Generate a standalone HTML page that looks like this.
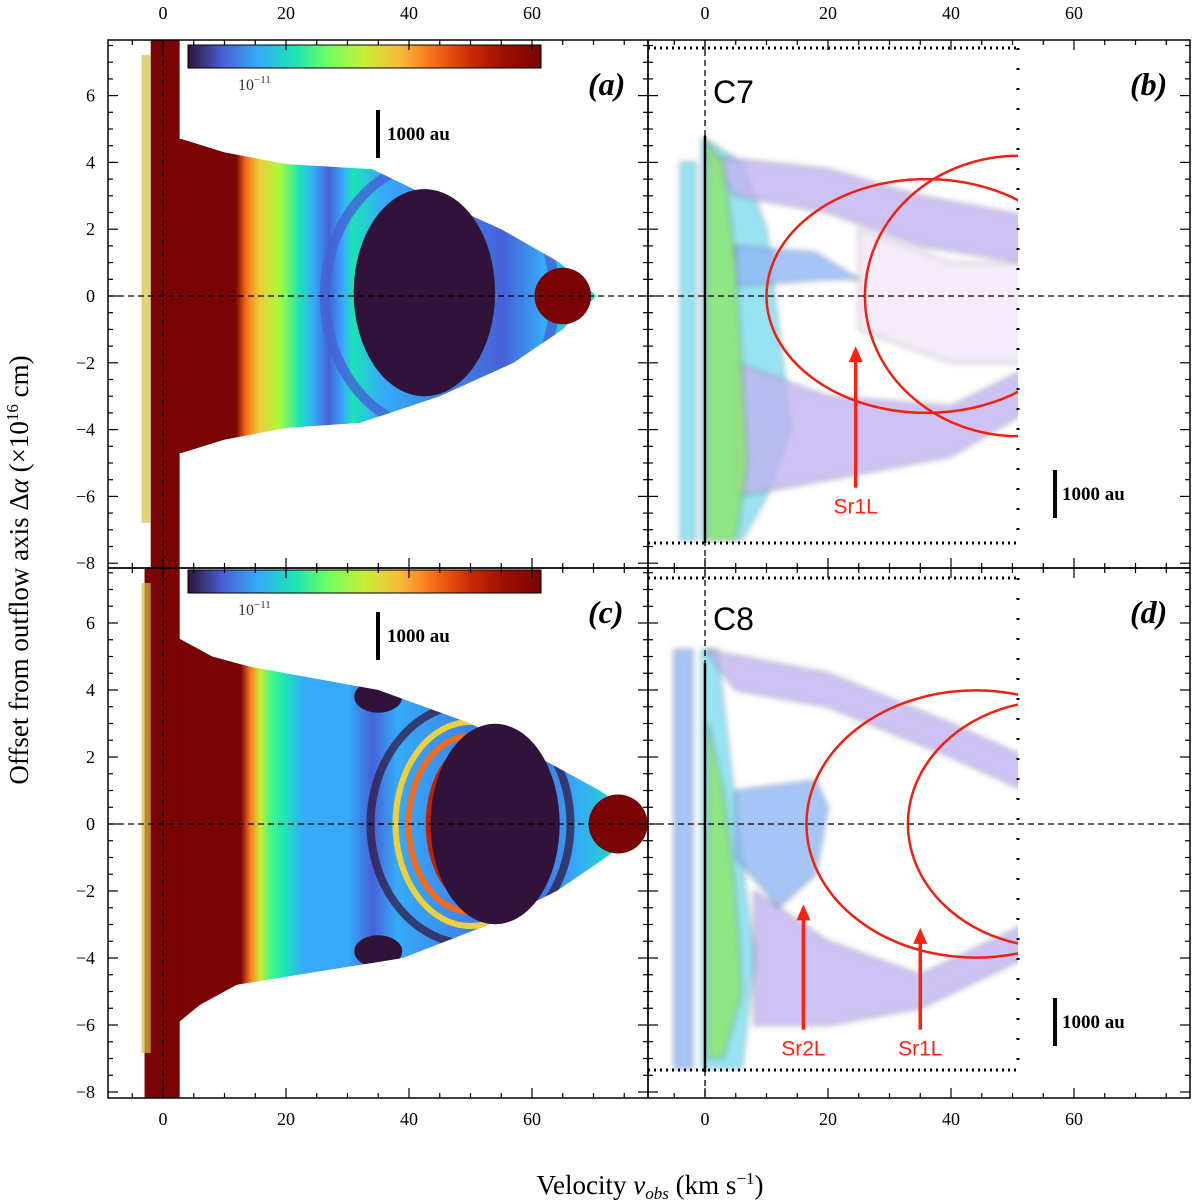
<!DOCTYPE html>
<html><head><meta charset="utf-8"><style>
html,body{margin:0;padding:0;background:#fff;}
svg{display:block;font-family:"Liberation Serif",serif;}
</style></head><body>
<svg id="fig" width="1200" height="1204" viewBox="0 0 1200 1204" xmlns="http://www.w3.org/2000/svg">
<defs id="defs">
<linearGradient id="turbo" x1="0" x2="1" y1="0" y2="0">
<stop offset="0" stop-color="#30123b"/><stop offset="0.1" stop-color="#4662d7"/><stop offset="0.2" stop-color="#36aaf9"/><stop offset="0.3" stop-color="#1ae4b6"/><stop offset="0.4" stop-color="#72fe5e"/><stop offset="0.5" stop-color="#c8ef34"/><stop offset="0.6" stop-color="#faba39"/><stop offset="0.7" stop-color="#f66b19"/><stop offset="0.8" stop-color="#ca2a04"/><stop offset="0.9" stop-color="#9c0e02"/><stop offset="1" stop-color="#7a0403"/>
</linearGradient>
<linearGradient id="gradA" gradientUnits="userSpaceOnUse" x1="163" x2="650" y1="0" y2="0">
<stop offset="0.15" stop-color="#7a0403"/><stop offset="0.17" stop-color="#f66b19"/><stop offset="0.2" stop-color="#edd03a"/><stop offset="0.24" stop-color="#a4fc3c"/><stop offset="0.28" stop-color="#1ae4b6"/><stop offset="0.31" stop-color="#36aaf9"/><stop offset="0.34" stop-color="#4662d7"/><stop offset="0.37" stop-color="#36aaf9"/><stop offset="0.39" stop-color="#1ae4b6"/><stop offset="0.45" stop-color="#36aaf9"/><stop offset="0.7" stop-color="#4662d7"/><stop offset="0.78" stop-color="#36aaf9"/><stop offset="0.85" stop-color="#1ae4b6"/>
</linearGradient>
<linearGradient id="gradC" gradientUnits="userSpaceOnUse" x1="163" x2="650" y1="0" y2="0">
<stop offset="0.16" stop-color="#7a0403"/><stop offset="0.18" stop-color="#fb8022"/><stop offset="0.2" stop-color="#c8ef34"/><stop offset="0.22" stop-color="#46f884"/><stop offset="0.25" stop-color="#1ae4b6"/><stop offset="0.29" stop-color="#36aaf9"/><stop offset="0.38" stop-color="#36aaf9"/><stop offset="0.43" stop-color="#4662d7"/><stop offset="0.48" stop-color="#36aaf9"/><stop offset="0.75" stop-color="#4662d7"/><stop offset="0.85" stop-color="#36aaf9"/><stop offset="0.95" stop-color="#1ae4b6"/>
</linearGradient>
<filter id="blur"><feGaussianBlur stdDeviation="3"/></filter>
<clipPath id="clipB"><rect x="648" y="45" width="370" height="498"/></clipPath>
<clipPath id="clipD"><rect x="648" y="578" width="370" height="494"/></clipPath>
<clipPath id="clipA"><rect x="108" y="40" width="540" height="528"/></clipPath>
<clipPath id="clipC"><rect x="108" y="568" width="540" height="530"/></clipPath>
</defs>
<g id="content"></g>
</svg>
<script>
// ---- data ----
const xTicks = [0, 20, 40, 60];
const yTicks = [6, 4, 2, 0, -2, -4, -6, -8];
const envAOffset = [4.7, 4.3, 3.95, 3.8, 3, 2, 1, 0, -1, -2, -3, -3.8, -3.95, -4.3, -4.7];
const envAVel = [3, 10, 20, 34, 43, 55, 64.5, 70.5, 65, 57, 45, 32, 20, 10, 3];
const envCOffset = [5.6, 5.0, 4.7, 4.5, 4, 3, 2, 1, 0, -1, -2, -3, -4, -4.5, -4.8, -5.4, -6];
const envCVel = [2, 8, 14, 20, 35, 50, 61, 71, 79, 72, 64, 53, 39, 22, 12, 6, 2];
const cavityA = [42.5, 0.1, 11.5, 3.1];
const cavityC = [54, 0, 10.5, 3.0];
const knotA = [65, 0, 4.6];
const knotC = [74, 0, 4.8];
const ellipsesB = [[36, 0, 26, 3.5], [51, 0, 25, 4.2]];
const ellipsesD = [[44, 0, 27.5, 4.0], [57, 0, 24, 3.7]];
const arrowsB = [[24.5, -5.8, -1.5, "Sr1L"]];
const arrowsD = [[16, -6.2, -2.4, "Sr2L"], [35, -6.2, -3.1, "Sr1L"]];
const blobsB = [
  [[[0,4.7],[6,4],[10,2],[12,-1],[14,-4],[10,-6],[6,-7.3],[-0.5,-7.3],[-0.5,4.7]], "#7fdcf0"],
  [[[0,4.2],[20,3.8],[35,3],[52,2.4],[52,1],[35,1.5],[20,2.5],[5,3]], "#c2b4f2"],
  [[[5,-2],[20,-3],[40,-3.3],[52,-2.2],[52,-3.5],[40,-4.8],[20,-5.5],[5,-6]], "#c2b4f2"],
  [[[5,1.5],[18,1.3],[25,0.5],[20,0.5],[5,0.3]], "#8fb8f5"],
  [[[25,2],[40,1],[52,1],[52,-2],[40,-2],[25,-1]], "#f3e6f8"],
  [[[0.3,4.6],[3,4],[5,1],[6,-2],[7,-5],[5,-7.3],[0.3,-7.3]], "#8ee86a"],
  [[[-4,4],[-1.5,4],[-1.5,-7.3],[-4,-7.3]], "#7fdcf0"]
];
const blobsD = [
  [[[-0.5,5.2],[2,5.2],[4,2],[6,-1],[8,-4],[6,-7.3],[-0.5,-7.3]], "#7fdcf0"],
  [[[0,5.2],[20,4.5],[40,3],[52,2],[52,1],[40,2],[20,3.5],[5,4]], "#c2b4f2"],
  [[[8,-2],[20,-3.5],[35,-4.5],[52,-3],[52,-4],[35,-5.5],[20,-6],[8,-6]], "#c2b4f2"],
  [[[5,1],[18,1.3],[20,0.5],[18,-1.5],[12,-2.5],[5,-1]], "#8fb8f5"],
  [[[0.5,3],[3,1],[5,-2],[6,-5],[3,-7],[0.5,-7]], "#8ee86a"],
  [[[-5,5.2],[-2,5.2],[-2,-7.3],[-5,-7.3]], "#8fb8f5"]
];

const NS = "http://www.w3.org/2000/svg";
const root = document.getElementById("content");
const defs = document.getElementById("defs");
function mk(tag, attrs, parent) {
  const e = document.createElementNS(NS, tag);
  for (const k in attrs) e.setAttribute(k, attrs[k]);
  (parent || root).appendChild(e);
  return e;
}
const xL = v => 163 + v * 6.15;
const xR = v => 705 + v * 6.15;
const yT = o => 296 - o * 33.4;
const yB = o => 824 - o * 33.5;

function heat(xf, yf, offs, vels, grad, clip, top, bot, nm, cav, knot, extra) {
  const g = mk("g", {"clip-path": "url(#" + clip + ")"});
  
  
  let d = "M" + xf(-1.5) + "," + yf(offs[0]);
  for (let i = 0; i < offs.length; i++) d += " L" + xf(vels[i]) + "," + yf(offs[i]);
  d += " L" + xf(-1.5) + "," + yf(offs[offs.length - 1]) + "Z";
  const env = mk("path", {d: d, fill: "url(#" + grad + ")"}, g);
  
  
  const cp = mk("clipPath", {id: nm + "-env"}, defs);
  mk("path", {d: d}, cp);
  const inner = mk("g", {"clip-path": "url(#" + nm + "-env)"}, g);
  if (extra) extra(inner, g);
  const c = mk("ellipse", {cx: xf(cav[0]), cy: yf(cav[1]), rx: cav[2] * 6.15, ry: cav[3] * 33.4, fill: "#30123b"}, g);
  
  
  const k = mk("circle", {cx: xf(knot[0]), cy: yf(knot[1]), r: knot[2] * 6.15, fill: "#7a0403"}, g);
  
  
  const col = mk("rect", {x: xf(-2), y: top, width: xf(2.7) - xf(-2), height: bot - top, fill: "#7a0403"}, g);
  
  
  const side = mk("rect", {x: xf(-3.5), y: top + 15, width: xf(-2) - xf(-3.5), height: bot - top - 60, fill: "#d8c040", opacity: 0.7}, g);
  
  
}
heat(xL, yT, envAOffset, envAVel, "gradA", "clipA", 40, 568, "panel-a-heatmap", cavityA, knotA, (inner, g) => {
  mk("path", {d: "M" + xL(-1.5) + "," + yT(4.6) + " Q" + xL(8) + "," + yT(4.3) + " " + xL(11) + "," + yT(3) + " L" + xL(11.5) + "," + yT(-3) + " Q" + xL(8) + "," + yT(-4.3) + " " + xL(-1.5) + "," + yT(-4.6) + "Z", fill: "#7a0403"}, g);
  mk("ellipse", {cx: xL(45), cy: yT(0), rx: 115, ry: 135, fill: "none", stroke: "#4662d7", "stroke-width": 10, opacity: 0.8}, inner);
});
heat(xL, yB, envCOffset, envCVel, "gradC", "clipC", 568, 1098, "panel-c-heatmap", cavityC, knotC, (inner, g) => {
  mk("rect", {x: xL(-3), y: 568, width: xL(2.7) - xL(-3), height: 530, fill: "#7a0403"}, g);
  mk("ellipse", {cx: xL(35), cy: yB(3.8), rx: 24, ry: 16, fill: "#30123b"}, inner);
  mk("ellipse", {cx: xL(35), cy: yB(-3.8), rx: 24, ry: 16, fill: "#30123b"}, inner);
  mk("ellipse", {cx: xL(50), cy: yB(0), rx: 100, ry: 120, fill: "none", stroke: "#30123b", "stroke-width": 8, opacity: 0.7}, inner);
  mk("ellipse", {cx: xL(50), cy: yB(0), rx: 75, ry: 102, fill: "none", stroke: "#edd03a", "stroke-width": 6}, inner);
  mk("ellipse", {cx: xL(50), cy: yB(0), rx: 62, ry: 88, fill: "none", stroke: "#f66b19", "stroke-width": 6}, inner);
  mk("ellipse", {cx: xL(51), cy: yB(0), rx: 48, ry: 78, fill: "none", stroke: "#c02003", "stroke-width": 6}, inner);
});

[[45, "colorbar-a"], [570, "colorbar-c"]].forEach(([y, n]) => {
  const r = mk("rect", {x: 188, y: y, width: 353, height: 23, fill: "url(#turbo)", stroke: "#000", "stroke-width": 1});
  
  
  const t = mk("text", {x: 238, y: y + 45, "font-size": 16, fill: "#333"});
  t.textContent = "10";
  
  
  const s = mk("tspan", {dy: -7, "font-size": 11}, t); s.textContent = "\u221211";
});

function obs(yf, clip, nm, blobs) {
  const g = mk("g", {"clip-path": "url(#" + clip + ")"});
  
  
  const b = mk("g", {filter: "url(#blur)"}, g);
  blobs.forEach(bl => {
    const d = "M" + bl[0].map(p => xR(p[0]) + "," + yf(p[1])).join(" L") + "Z";
    const p = mk("path", {d: d, fill: bl[1], opacity: 0.8, stroke: "#333", "stroke-width": 1}, b);
    
    
  });
  mk("line", {x1: xR(0), x2: xR(0), y1: yf(4.8), y2: yf(-7.4), stroke: "#000", "stroke-width": 2.5}, g);
}
obs(yT, "clipB", "panel-b-contours", blobsB);
obs(yB, "clipD", "panel-d-contours", blobsD);

function ells(list, yf, clip, nm) {
  const g = mk("g", {"clip-path": "url(#" + clip + ")"});
  list.forEach(e => {
    const el = mk("ellipse", {cx: xR(e[0]), cy: yf(e[1]), rx: e[2] * 6.15, ry: e[3] * 33.4, fill: "none", stroke: "#f02010", "stroke-width": 2.5}, g);
    
    
  });
}
ells(ellipsesB, yT, "clipB", "panel-b");
ells(ellipsesD, yB, "clipD", "panel-d");
function arrows(list, yf) {
  list.forEach(a => {
    const x = xR(a[0]);
    const ar = mk("g", {});
    
    
    mk("line", {x1: x, y1: yf(a[1]) - 2, x2: x, y2: yf(a[2]) + 14, stroke: "#ff2010", "stroke-width": 3.5}, ar);
    mk("path", {d: "M" + (x - 7) + "," + (yf(a[2]) + 16) + " L" + x + "," + yf(a[2]) + " L" + (x + 7) + "," + (yf(a[2]) + 16) + "Z", fill: "#ff2010"}, ar);
    const t = mk("text", {x: x, y: yf(a[1]) + 24, "text-anchor": "middle", "font-family": "Liberation Sans, sans-serif", "font-size": 21, fill: "#ff2010"}, ar);
    t.textContent = a[3];
  });
}
arrows(arrowsB, yT);
arrows(arrowsD, yB);

[["C7", 713, 103], ["C8", 713, 630]].forEach(([s, x, y]) => {
  const t = mk("text", {x: x, y: y, "font-family": "Liberation Sans, sans-serif", "font-size": 32, fill: "#000"});
  t.textContent = s;
  
  
});
[[648, 48, 1018, 543], [648, 578, 1018, 1070]].forEach(([x0, y0, x1, y1]) => {
  mk("line", {x1: x0, y1: y0, x2: x1, y2: y0, stroke: "#000", "stroke-width": 3, "stroke-dasharray": "2,4"});
  mk("line", {x1: x0, y1: y1, x2: x1, y2: y1, stroke: "#000", "stroke-width": 3, "stroke-dasharray": "2,4"});
  mk("line", {x1: x1, y1: y0, x2: x1, y2: y1, stroke: "#000", "stroke-width": 3, "stroke-dasharray": "2,18"});
});

[[108, 1190, yT(0), yT(0)], [108, 1190, yB(0), yB(0)], [xL(0), xL(0), 40, 1098], [xR(0), xR(0), 40, 1098]].forEach(l => {
  const e = mk("line", {x1: l[0], x2: l[1], y1: l[2], y2: l[3], stroke: "#000", "stroke-width": 1.3, "stroke-dasharray": "6,4"});
  
  
});

const panels = [[108, 40, 648, 568, xL, yT, "a"], [648, 40, 1190, 568, xR, yT, "b"], [108, 568, 648, 1098, xL, yB, "c"], [648, 568, 1190, 1098, xR, yB, "d"]];
panels.forEach(p => {
  const [x0, y0, x1, y1, xf, yf, id] = p;
  const f = mk("rect", {x: x0, y: y0, width: x1 - x0, height: y1 - y0, fill: "none", stroke: "#000", "stroke-width": 1.5});
  
  
  for (let v = -5; v <= 80; v += 5) {
    const x = xf(v); if (x < x0 || x > x1) continue;
    const L = v % 20 === 0 ? 10 : 5;
    mk("line", {x1: x, x2: x, y1: y0, y2: y0 + L, stroke: "#000", "stroke-width": 1.2});
    mk("line", {x1: x, x2: x, y1: y1, y2: y1 - L, stroke: "#000", "stroke-width": 1.2});
  }
  for (let o = -8; o <= 7.5; o += 0.5) {
    const y = yf(o); if (y < y0 || y > y1) continue;
    const L = o % 2 === 0 ? 10 : 5;
    mk("line", {x1: x0, x2: x0 + L, y1: y, y2: y, stroke: "#000", "stroke-width": 1.2});
    mk("line", {x1: x1, x2: x1 - L, y1: y, y2: y, stroke: "#000", "stroke-width": 1.2});
  }
  const t = mk("text", {x: x1 - 60, y: y0 + 55, "font-size": 32, "font-weight": "bold", "font-style": "italic"});
  t.textContent = "(" + id + ")";
  
  
});
[xL, xR].forEach(xf => xTicks.forEach(v => {
  const t1 = mk("text", {x: xf(v), y: 19, "text-anchor": "middle", "font-size": 18});
  t1.textContent = v;
  
  
  const t2 = mk("text", {x: xf(v), y: 1125, "text-anchor": "middle", "font-size": 18});
  t2.textContent = v;
  
  
}));
[yT, yB].forEach(yf => yTicks.forEach(o => {
  const t = mk("text", {x: 95, y: yf(o) + 6, "text-anchor": "end", "font-size": 18});
  t.textContent = o < 0 ? "\u2212" + (-o) : o;
  
  
}));
[[378, 110, 387, 140], [1055, 470, 1062, 500], [378, 612, 387, 642], [1055, 998, 1062, 1028]].forEach(s => {
  const g = mk("g", {});
  
  
  mk("line", {x1: s[0], x2: s[0], y1: s[1], y2: s[1] + 48, stroke: "#000", "stroke-width": 4}, g);
  const t = mk("text", {x: s[2], y: s[3], "font-size": 19, "font-weight": "bold"}, g);
  t.textContent = "1000 au";
});
const xt = mk("text", {x: 650, y: 1194, "text-anchor": "middle", "font-size": 27});


xt.innerHTML = 'Velocity <tspan font-style="italic">v</tspan><tspan font-style="italic" font-size="17" dy="5">obs</tspan><tspan dy="-5"> (km s</tspan><tspan font-size="17" dy="-10">\u22121</tspan><tspan dy="10">)</tspan>';
const yt = mk("text", {x: 0, y: 0, "text-anchor": "middle", "font-size": 27, transform: "translate(28,570) rotate(-90)"});


yt.innerHTML = 'Offset from outflow axis \u0394<tspan font-style="italic">\u03b1</tspan> (\u00d710<tspan font-size="17" dy="-10">16</tspan><tspan dy="10"> cm)</tspan>';
</script>
</body></html>
